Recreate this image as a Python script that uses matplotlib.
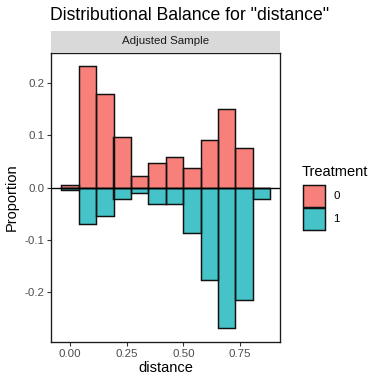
import matplotlib
matplotlib.use("Agg")
import matplotlib.pyplot as plt
from matplotlib.patches import Rectangle

plt.rcParams['font.family'] = ['Liberation Sans', 'DejaVu Sans']

# Data
bin_centers = [0.000, 0.077, 0.154, 0.230, 0.307, 0.384, 0.461, 0.538, 0.614, 0.691, 0.768, 0.845]
bin_width = 0.0768
prop_treat0 = [0.005, 0.233, 0.179, 0.097, 0.022, 0.048, 0.059, 0.038, 0.092, 0.151, 0.075, 0.000]
prop_treat1 = [0.004, 0.070, 0.054, 0.022, 0.011, 0.032, 0.032, 0.086, 0.177, 0.268, 0.215, 0.022]
groups = ["0", "1"]
colors = ["#F8807A", "#45C3C8"]
xticks = [0.00, 0.25, 0.50, 0.75]
xticklabels = ["0.00", "0.25", "0.50", "0.75"]
yticks = [-0.2, -0.1, 0.0, 0.1, 0.2]
yticklabels = ["-0.2", "-0.1", "0.0", "0.1", "0.2"]

W = H = 384
fig = plt.figure(figsize=(4, 4), dpi=96)

def fx(px):
    return px / W

def fy(py):
    return 1 - py / H

L, R, T, B = 51, 280, 53, 342
ax = fig.add_axes([fx(L), fy(B), fx(R) - fx(L), fy(T) - fy(B)])

ax.bar(bin_centers, prop_treat0, width=bin_width, color=colors[0],
       edgecolor='none', zorder=2)
ax.bar(bin_centers, [-v for v in prop_treat1], width=bin_width, color=colors[1],
       edgecolor='none', zorder=2)
ax.bar(bin_centers, prop_treat0, width=bin_width, fill=False,
       edgecolor='#111111', linewidth=1.1, zorder=3)
ax.bar(bin_centers, [-v for v in prop_treat1], width=bin_width, fill=False,
       edgecolor='#111111', linewidth=1.1, zorder=3)
ax.axhline(0, color='black', linewidth=1.0, zorder=4)

ax.set_xlim(-0.084, 0.926)
ax.set_ylim(-0.295, 0.2575)
ax.set_xticks(xticks)
ax.set_xticklabels(xticklabels)
ax.set_yticks(yticks)
ax.set_yticklabels(yticklabels)
ax.tick_params(axis='both', labelsize=8.6, colors='#333333', length=3, width=0.8,
               labelcolor='#4D4D4D', pad=2)
for s in ax.spines.values():
    s.set_color('#1a1a1a')
    s.set_linewidth(1.0)

ax.set_xlabel("distance", fontsize=11, labelpad=2)
ax.set_ylabel("Proportion", fontsize=11, labelpad=4)

# Facet strip
strip = Rectangle((fx(L), fy(52)), fx(R) - fx(L), fy(31) - fy(52), transform=fig.transFigure,
                  facecolor='#D9D9D9', edgecolor='none')
fig.patches.append(strip)
fig.text((fx(L) + fx(R)) / 2, (fy(31) + fy(52)) / 2, "Adjusted Sample", ha='center', va='center',
         fontsize=8.6, color='#1A1A1A')

# Title
fig.text(fx(50), fy(15), 'Distributional Balance for "distance"', ha='left', va='center',
         fontsize=13.2, color='black')

# Legend
fig.text(fx(302), fy(172), "Treatment", ha='left', va='center', fontsize=11)
key_tops = [185, 207.5]
for g, c, kt in zip(groups, colors, key_tops):
    fig.patches.append(Rectangle((fx(303), fy(kt + 22)), fx(22), fx(22), transform=fig.transFigure,
                                 facecolor=c, edgecolor='none'))
    fig.patches.append(Rectangle((fx(303), fy(kt + 22)), fx(22), fx(22), transform=fig.transFigure,
                                 fill=False, edgecolor='#111111', linewidth=1.1))
    fig.text(fx(333), fy(kt + 11), g, ha='left', va='center', fontsize=8.6)

fig.savefig("out.png", dpi=96)
